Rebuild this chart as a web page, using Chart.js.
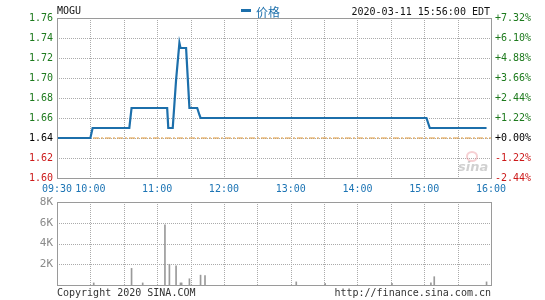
<!DOCTYPE html>
<html>
<head>
<meta charset="utf-8">
<script src="https://cdn.jsdelivr.net/npm/chart.js@4"></script>
<style>
  html, body { margin: 0; padding: 0; background: #fff; }
  #wrap { position: relative; width: 545px; height: 300px; overflow: hidden; font-family: "DejaVu Sans Mono", "Liberation Mono", monospace; font-size: 10px; }
  canvas { position: absolute; left: 0; }
  .t { position: absolute; white-space: nowrap; line-height: 12px; height: 12px; }
</style>
</head>
<body>
<div id="wrap">
  <canvas id="price" width="545" height="200" style="top:0px"></canvas>
  <canvas id="vol" width="545" height="110" style="top:190px"></canvas>
  <div class="t" style="left:57px; top:5px; color:#111;">MOGU</div>
  <div style="position:absolute; left:241px; top:9px; width:10px; height:3px; background:#1c6fab;"></div>
  <div class="t" style="left:256px; top:5px; height:14px; line-height:14px; color:#1c6fab; font-family:'Noto Sans CJK SC', sans-serif; font-size:12px;">价格</div>
  <div class="t" style="right:55px; top:6px; color:#111;">2020-03-11 15:56:00 EDT</div>
  <div class="t" style="left:57px; top:287px; color:#333;">Copyright 2020 SINA.COM</div>
  <div class="t" style="right:54px; top:287px; color:#333;">http://finance.sina.com.cn</div>
  <div style="position:absolute; left:466px; top:151px; width:8px; height:7px; border:2px solid rgba(230,120,130,0.35); border-radius:50%;"></div>
  <div class="t" style="left:458px; top:160px; height:14px; line-height:14px; color:rgba(150,150,150,0.45); font-family:'DejaVu Sans', sans-serif; font-style:italic; font-weight:bold; font-size:13px;">sina</div>
</div>
<script>
// ---- data ----
const priceTimes = ['09:30','10:00','10:02','10:35','10:37','11:09','11:10','11:14','11:17','11:20','11:21','11:26','11:29','11:36','11:38','11:39','15:02','15:05','15:56'];
const prices     = [1.64, 1.64, 1.65, 1.65, 1.67, 1.67, 1.65, 1.65, 1.698, 1.735, 1.73, 1.73, 1.67, 1.67, 1.663, 1.66, 1.66, 1.65, 1.65];
const prevClose = 1.64;
const volTimes = ['10:03','10:37','10:47','11:07','11:11','11:17','11:21','11:22','11:29','11:39','11:43','13:05','13:31','14:31','15:06','15:09','15:56'];
const volumes  = [200, 1600, 200, 5800, 2000, 1850, 200, 200, 600, 950, 900, 300, 150, 150, 200, 800, 300];
const priceTicks = [1.60, 1.62, 1.64, 1.66, 1.68, 1.70, 1.72, 1.74, 1.76];
const volTicks = [0, 2000, 4000, 6000, 8000];

// ---- helpers ----
function toMin(s){ const [h,m]=s.split(':').map(Number); return (h*60+m) - (9*60+30); }
function minLabel(v){ const t = 9*60+30+v; const h = Math.floor(t/60), m = t%60; return String(h).padStart(2,'0')+':'+String(m).padStart(2,'0'); }
const FONT = { family: "'DejaVu Sans Mono', 'Liberation Mono', monospace", size: 10 };

// dotted grid drawn at the library's own tick positions
const dotGrid = {
  id: 'dotGrid',
  beforeDatasetsDraw(chart){
    const a = chart.chartArea, c = chart.ctx;
    const sx = chart.scales.x, sy = chart.scales.y;
    c.save(); c.fillStyle = '#ababab';
    const xs = sx.ticks.map(t => Math.round(sx.getPixelForValue(t.value)));
    const ys = sy.ticks.map(t => Math.round(sy.getPixelForValue(t.value)));
    for (const x of xs) for (let y = Math.round(a.top); y <= a.bottom; y += 2) c.fillRect(x, y, 1, 1);
    for (const y of ys) for (let x = Math.round(a.left); x <= a.right; x += 2) c.fillRect(x, y, 1, 1);
    c.restore();
  }
};
const borderPlugin = {
  id: 'box',
  afterDraw(chart){
    const a = chart.chartArea, c = chart.ctx;
    c.save(); c.strokeStyle = '#9a9a9a'; c.lineWidth = 1; c.setLineDash([]);
    c.strokeRect(Math.round(a.left)+0.5, Math.round(a.top)+0.5, Math.round(a.right-a.left), Math.round(a.bottom-a.top));
    c.restore();
  }
};
function priceColor(v){ v = Math.round(v*100)/100; if (Math.abs(v-prevClose) < 1e-6) return '#000'; return v > prevClose ? '#1d7a1d' : '#cc1a1a'; }

const NOGRID = { display: false, drawTicks: false };

new Chart(document.getElementById('price'), {
  type: 'line',
  data: {
    datasets: [
      { data: priceTimes.map((t,i)=>({x: toMin(t), y: prices[i]})), borderColor: '#1c6fab', borderWidth: 2.2, pointRadius: 0, tension: 0, yAxisID: 'y' },
      { data: [{x:0, y:prevClose},{x:390, y:prevClose}], borderColor: '#e29a3a', borderWidth: 1, borderDash: [6,2,2,2], pointRadius: 0, yAxisID: 'y2' }
    ]
  },
  options: {
    responsive: false, animation: false, events: [],
    layout: { padding: { top: 18, left: 0, right: 0, bottom: 0 } },
    plugins: { legend: { display: false }, tooltip: { enabled: false } },
    scales: {
      x: {
        type: 'linear', min: 0, max: 390,
        afterFit(s){ s.height = 22; },
        grid: NOGRID, border: { display: false },
        ticks: { stepSize: 30, autoSkip: false, maxRotation: 0, padding: 5, font: FONT, color: '#1c74b4',
          callback: v => (v === 0 || v % 60 === 30) ? minLabel(v) : '' }
      },
      y: {
        position: 'left', min: 1.60, max: 1.76,
        afterFit(s){ s.width = 57; },
        afterBuildTicks(s){ s.ticks = priceTicks.map(v=>({value:v})); },
        grid: NOGRID, border: { display: false },
        ticks: { padding: 4, font: FONT, color: ctx => priceColor(ctx.tick.value), callback: v => v.toFixed(2) }
      },
      y2: {
        position: 'right', min: 1.60, max: 1.76,
        afterFit(s){ s.width = 54; },
        afterBuildTicks(s){ s.ticks = priceTicks.map(v=>({value:v})); },
        grid: NOGRID, border: { display: false },
        ticks: { padding: 4, font: FONT, color: ctx => priceColor(ctx.tick.value),
          callback: v => { const p = (v - prevClose)/prevClose*100; const s = Math.abs(p).toFixed(2); return (p < -1e-9 ? '-' : '+') + s + '%'; } }
      }
    }
  },
  plugins: [dotGrid, borderPlugin]
});

new Chart(document.getElementById('vol'), {
  type: 'bar',
  data: {
    datasets: [
      { data: volTimes.map((t,i)=>({x: toMin(t), y: volumes[i]})), backgroundColor: '#9a9a9a', borderWidth: 0, barThickness: 1 }
    ]
  },
  options: {
    responsive: false, animation: false, events: [],
    layout: { padding: { top: 12, left: 0, right: 54, bottom: 0 } },
    plugins: { legend: { display: false }, tooltip: { enabled: false } },
    scales: {
      x: {
        type: 'linear', min: 0, max: 390, offset: false,
        afterFit(s){ s.height = 15; },
        grid: NOGRID, border: { display: false },
        ticks: { stepSize: 30, autoSkip: false, display: false }
      },
      y: {
        position: 'left', min: 0, max: 8000,
        afterFit(s){ s.width = 57; },
        afterBuildTicks(s){ s.ticks = volTicks.map(v=>({value:v})); },
        grid: NOGRID, border: { display: false },
        ticks: { padding: 4, font: { family: FONT.family, size: 11 }, color: '#8a8a8a', callback: v => v === 0 ? '' : (v/1000) + 'K' }
      }
    }
  },
  plugins: [dotGrid, borderPlugin]
});
</script>
</body>
</html>
